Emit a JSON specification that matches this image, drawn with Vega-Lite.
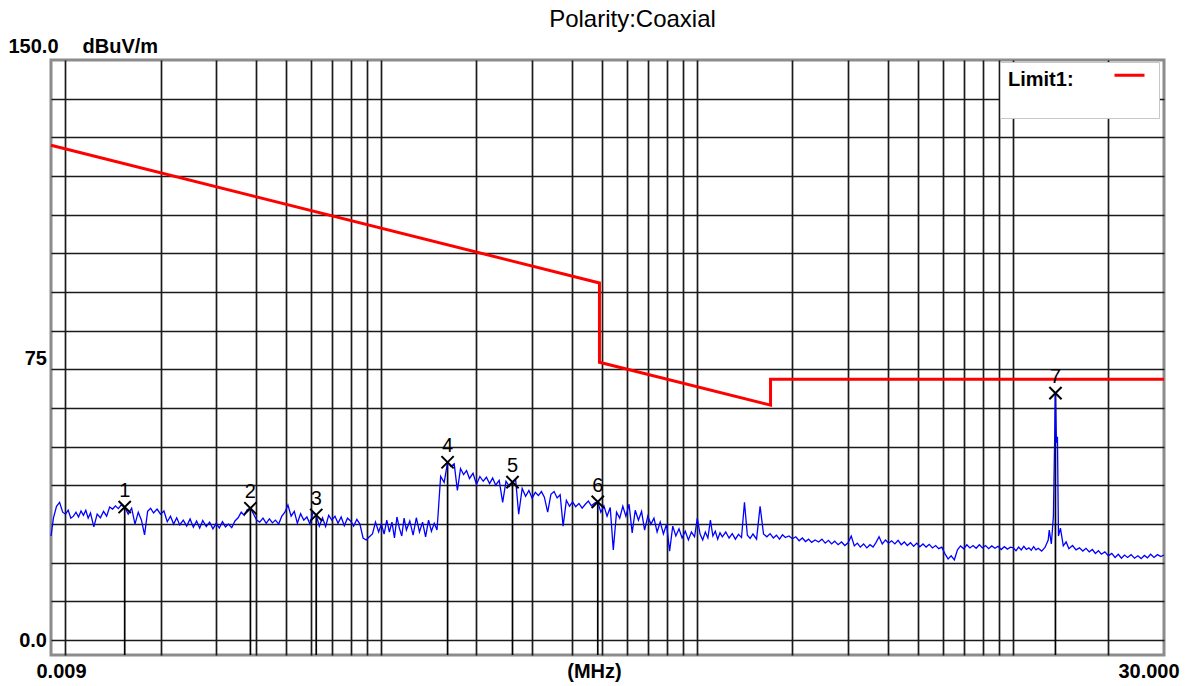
{
  "$schema": "https://vega.github.io/schema/vega-lite/v6.json",
  "width": 1113,
  "height": 595,
  "autosize": {"type": "none"},
  "padding": {"left": 51, "top": 60, "right": 27, "bottom": 31},
  "background": "white",
  "title": {"text": "Polarity:Coaxial", "font": "Liberation Sans", "fontSize": 24, "fontWeight": "normal", "color": "#000", "anchor": "middle", "frame": "group", "baseline": "alphabetic", "offset": -14, "dx": 25},
  "config": {
    "view": {"stroke": "#8c8c8c", "strokeWidth": 3},
    "font": "Liberation Sans"
  },
  "datasets": {
    "trace": [
      {"f":0.009,"v":30.0},{"f":0.00916,"v":34.5},{"f":0.00937,"v":37.5},{"f":0.00958,"v":38.5},{"f":0.0098,"v":36.0},
      {"f":0.01,"v":35.5},{"f":0.0102,"v":36.5},{"f":0.0104,"v":34.5},{"f":0.0106,"v":35.0},{"f":0.0108,"v":36.0},{"f":0.011,"v":34.8},{"f":0.0112,"v":36.3},{"f":0.0114,"v":35.2},{"f":0.0116,"v":36.5},{"f":0.0118,"v":34.5},{"f":0.012,"v":35.8},{"f":0.0123,"v":32.3},{"f":0.0126,"v":35.5},{"f":0.0129,"v":34.6},{"f":0.0132,"v":36.2},{"f":0.0135,"v":35.0},{"f":0.0138,"v":37.3},{"f":0.0141,"v":36.8},{"f":0.0144,"v":37.6},{"f":0.0147,"v":36.9},{"f":0.015,"v":37.8},{"f":0.0154,"v":37.3},{"f":0.0158,"v":35.5},{"f":0.0162,"v":37.0},{"f":0.0166,"v":33.0},{"f":0.017,"v":36.0},{"f":0.0174,"v":34.0},{"f":0.0178,"v":30.3},{"f":0.0182,"v":36.2},{"f":0.0186,"v":37.0},{"f":0.019,"v":35.8},{"f":0.0195,"v":36.8},
      {"f":0.02,"v":35.5},{"f":0.0205,"v":36.3},{"f":0.021,"v":33.6},{"f":0.0215,"v":35.0},{"f":0.022,"v":33.0},{"f":0.0225,"v":34.6},{"f":0.023,"v":32.8},{"f":0.0236,"v":34.0},{"f":0.0242,"v":32.5},{"f":0.0248,"v":34.3},{"f":0.0254,"v":32.2},{"f":0.026,"v":33.8},{"f":0.0266,"v":32.0},{"f":0.0272,"v":33.9},{"f":0.0279,"v":32.4},{"f":0.0286,"v":33.5},{"f":0.0293,"v":31.8},
      {"f":0.03,"v":33.2},{"f":0.0307,"v":32.0},{"f":0.0314,"v":33.6},{"f":0.0321,"v":32.3},{"f":0.0328,"v":33.0},{"f":0.0336,"v":32.1},{"f":0.0344,"v":33.8},{"f":0.0352,"v":34.6},{"f":0.036,"v":36.0},{"f":0.0368,"v":35.2},{"f":0.0376,"v":36.6},{"f":0.0385,"v":37.0},{"f":0.0394,"v":35.5},
      {"f":0.0403,"v":34.0},{"f":0.0412,"v":33.5},{"f":0.0422,"v":34.5},{"f":0.0432,"v":33.2},{"f":0.0442,"v":34.3},{"f":0.0452,"v":33.3},{"f":0.0462,"v":34.0},{"f":0.0473,"v":33.0},{"f":0.0484,"v":35.0},{"f":0.0495,"v":36.0},
      {"f":0.0506,"v":37.8},{"f":0.0518,"v":35.0},{"f":0.053,"v":36.2},{"f":0.0542,"v":33.2},{"f":0.0555,"v":35.6},{"f":0.0568,"v":34.0},{"f":0.0581,"v":34.8},{"f":0.0594,"v":33.0},{"f":0.0608,"v":36.0},{"f":0.0622,"v":35.3},{"f":0.0636,"v":32.5},{"f":0.0651,"v":34.6},{"f":0.0666,"v":32.4},{"f":0.0681,"v":35.2},{"f":0.0697,"v":34.0},
      {"f":0.0713,"v":35.0},{"f":0.0729,"v":33.2},{"f":0.0746,"v":34.8},{"f":0.0763,"v":32.6},{"f":0.0781,"v":34.5},{"f":0.0799,"v":33.8},{"f":0.0817,"v":32.5},{"f":0.0836,"v":34.2},{"f":0.0855,"v":33.0},{"f":0.0875,"v":29.5},{"f":0.0895,"v":29.0},{"f":0.0916,"v":29.8},{"f":0.0937,"v":30.5},{"f":0.0958,"v":33.5},{"f":0.098,"v":31.0},
      {"f":0.1,"v":33.0},{"f":0.102,"v":30.5},{"f":0.104,"v":34.0},{"f":0.106,"v":31.0},{"f":0.108,"v":33.5},{"f":0.11,"v":29.5},{"f":0.112,"v":34.8},{"f":0.114,"v":32.0},{"f":0.116,"v":30.0},{"f":0.118,"v":34.5},{"f":0.12,"v":31.5},{"f":0.123,"v":33.8},{"f":0.126,"v":30.2},{"f":0.129,"v":34.6},{"f":0.132,"v":31.0},{"f":0.135,"v":33.5},{"f":0.138,"v":29.8},{"f":0.141,"v":34.0},{"f":0.144,"v":31.2},{"f":0.147,"v":33.2},{"f":0.15,"v":31.5},
      {"f":0.154,"v":45.0},{"f":0.158,"v":43.5},{"f":0.162,"v":48.6},{"f":0.166,"v":47.5},{"f":0.17,"v":48.2},{"f":0.174,"v":41.5},{"f":0.178,"v":47.0},{"f":0.182,"v":45.5},{"f":0.186,"v":46.5},{"f":0.19,"v":44.5},{"f":0.195,"v":45.8},
      {"f":0.2,"v":43.0},{"f":0.205,"v":45.0},{"f":0.21,"v":43.8},{"f":0.215,"v":44.8},{"f":0.22,"v":43.2},{"f":0.225,"v":44.6},{"f":0.23,"v":42.8},{"f":0.236,"v":44.0},{"f":0.242,"v":38.5},{"f":0.248,"v":43.8},{"f":0.254,"v":42.5},{"f":0.26,"v":43.6},{"f":0.266,"v":44.2},{"f":0.272,"v":35.5},{"f":0.279,"v":42.0},{"f":0.286,"v":40.0},{"f":0.293,"v":41.5},
      {"f":0.3,"v":39.5},{"f":0.307,"v":41.0},{"f":0.314,"v":40.2},{"f":0.321,"v":41.2},{"f":0.328,"v":39.8},{"f":0.336,"v":36.0},{"f":0.344,"v":40.5},{"f":0.352,"v":41.2},{"f":0.36,"v":39.6},{"f":0.368,"v":40.4},{"f":0.376,"v":32.5},{"f":0.385,"v":39.0},{"f":0.394,"v":37.5},
      {"f":0.403,"v":38.6},{"f":0.412,"v":37.4},{"f":0.422,"v":38.2},{"f":0.432,"v":37.0},{"f":0.442,"v":38.0},{"f":0.452,"v":38.8},{"f":0.462,"v":37.6},{"f":0.473,"v":38.3},{"f":0.484,"v":38.6},{"f":0.495,"v":36.0},
      {"f":0.506,"v":37.6},{"f":0.518,"v":35.0},{"f":0.53,"v":37.2},{"f":0.542,"v":26.5},{"f":0.555,"v":36.0},{"f":0.568,"v":34.5},{"f":0.581,"v":37.5},{"f":0.594,"v":35.0},{"f":0.608,"v":38.0},{"f":0.622,"v":30.8},{"f":0.636,"v":36.5},{"f":0.651,"v":34.0},{"f":0.666,"v":36.2},{"f":0.681,"v":31.5},{"f":0.697,"v":35.0},
      {"f":0.713,"v":33.0},{"f":0.729,"v":34.5},{"f":0.746,"v":31.0},{"f":0.763,"v":33.5},{"f":0.781,"v":30.5},{"f":0.799,"v":33.0},{"f":0.817,"v":26.2},{"f":0.836,"v":32.5},{"f":0.855,"v":30.0},{"f":0.875,"v":31.8},{"f":0.895,"v":29.5},{"f":0.916,"v":31.2},{"f":0.937,"v":29.0},{"f":0.958,"v":31.0},{"f":0.98,"v":29.8},
      {"f":1.0,"v":34.5},{"f":1.02,"v":30.5},{"f":1.04,"v":29.0},{"f":1.06,"v":31.0},{"f":1.08,"v":29.5},{"f":1.1,"v":34.0},{"f":1.12,"v":30.0},{"f":1.14,"v":31.2},{"f":1.16,"v":29.2},{"f":1.18,"v":30.8},{"f":1.2,"v":29.8},{"f":1.23,"v":31.0},{"f":1.26,"v":29.5},{"f":1.29,"v":30.6},{"f":1.32,"v":29.2},{"f":1.35,"v":30.4},{"f":1.38,"v":29.6},{"f":1.41,"v":38.5},{"f":1.44,"v":30.2},{"f":1.47,"v":29.4},{"f":1.5,"v":30.5},{"f":1.54,"v":29.2},{"f":1.58,"v":37.5},{"f":1.62,"v":30.5},{"f":1.66,"v":29.8},{"f":1.7,"v":30.6},{"f":1.74,"v":29.5},{"f":1.78,"v":30.2},{"f":1.82,"v":29.2},{"f":1.86,"v":30.3},{"f":1.9,"v":29.6},{"f":1.95,"v":30.0},
      {"f":2.0,"v":29.3},{"f":2.05,"v":29.8},{"f":2.1,"v":28.8},{"f":2.15,"v":29.5},{"f":2.2,"v":28.6},{"f":2.25,"v":29.2},{"f":2.3,"v":28.4},{"f":2.36,"v":29.0},{"f":2.42,"v":28.5},{"f":2.48,"v":29.2},{"f":2.54,"v":28.2},{"f":2.6,"v":28.9},{"f":2.66,"v":28.0},{"f":2.72,"v":28.7},{"f":2.79,"v":27.8},{"f":2.86,"v":28.5},{"f":2.93,"v":27.6},
      {"f":3.0,"v":28.3},{"f":3.07,"v":30.0},{"f":3.14,"v":27.5},{"f":3.21,"v":28.2},{"f":3.28,"v":27.2},{"f":3.36,"v":28.0},{"f":3.44,"v":27.0},{"f":3.52,"v":27.8},{"f":3.6,"v":27.2},{"f":3.68,"v":28.4},{"f":3.76,"v":29.8},{"f":3.85,"v":28.0},{"f":3.94,"v":29.0},
      {"f":4.03,"v":28.2},{"f":4.12,"v":28.8},{"f":4.22,"v":28.0},{"f":4.32,"v":28.9},{"f":4.42,"v":27.8},{"f":4.52,"v":28.5},{"f":4.62,"v":27.6},{"f":4.73,"v":28.3},{"f":4.84,"v":27.4},{"f":4.95,"v":28.2},
      {"f":5.06,"v":27.3},{"f":5.18,"v":28.0},{"f":5.3,"v":27.2},{"f":5.42,"v":27.9},{"f":5.55,"v":27.0},{"f":5.68,"v":27.6},{"f":5.81,"v":26.8},{"f":5.94,"v":27.2},{"f":6.08,"v":25.5},{"f":6.22,"v":24.2},{"f":6.36,"v":25.0},{"f":6.51,"v":24.0},{"f":6.66,"v":26.5},{"f":6.81,"v":27.5},{"f":6.97,"v":26.8},
      {"f":7.13,"v":27.8},{"f":7.29,"v":27.0},{"f":7.46,"v":27.6},{"f":7.63,"v":26.9},{"f":7.81,"v":27.8},{"f":7.99,"v":27.0},{"f":8.17,"v":27.6},{"f":8.36,"v":26.8},{"f":8.55,"v":27.5},{"f":8.75,"v":26.9},{"f":8.95,"v":27.4},{"f":9.16,"v":26.6},{"f":9.37,"v":27.3},{"f":9.58,"v":26.7},{"f":9.8,"v":27.2},
      {"f":10.0,"v":27.0},{"f":10.2,"v":26.3},{"f":10.4,"v":27.2},{"f":10.6,"v":26.5},{"f":10.8,"v":27.4},{"f":11.0,"v":26.6},{"f":11.2,"v":27.0},{"f":11.4,"v":26.4},{"f":11.6,"v":27.3},{"f":11.8,"v":26.5},{"f":12.0,"v":26.9},{"f":12.3,"v":26.2},{"f":12.6,"v":27.1},{"f":12.9,"v":29.0},{"f":13.0,"v":31.5},{"f":13.2,"v":28.0},{"f":13.4,"v":35.0},{"f":13.5,"v":51.0},{"f":13.6,"v":66.0},{"f":13.7,"v":53.5},{"f":13.8,"v":55.0},{"f":13.9,"v":30.0},{"f":14.1,"v":32.0},{"f":14.4,"v":27.5},{"f":14.7,"v":28.5},
      {"f":15.0,"v":26.8},{"f":15.4,"v":27.6},{"f":15.8,"v":26.5},{"f":16.2,"v":27.0},{"f":16.6,"v":26.2},{"f":17.0,"v":26.9},{"f":17.4,"v":26.0},{"f":17.8,"v":26.6},{"f":18.2,"v":25.6},{"f":18.6,"v":26.3},{"f":19.0,"v":25.4},{"f":19.5,"v":26.0},
      {"f":20.0,"v":25.0},{"f":20.5,"v":25.6},{"f":21.0,"v":24.6},{"f":21.5,"v":25.4},{"f":22.0,"v":24.4},{"f":22.5,"v":25.2},{"f":23.0,"v":24.6},{"f":23.6,"v":25.3},{"f":24.2,"v":24.4},{"f":24.8,"v":25.0},{"f":25.4,"v":24.3},{"f":26.0,"v":25.1},{"f":26.6,"v":24.5},{"f":27.2,"v":25.4},{"f":27.9,"v":24.6},{"f":28.6,"v":25.3},{"f":29.3,"v":24.8},{"f":30.0,"v":25.2}
    ],
    "limit": [
      {"f":0.009,"v":128.5,"s":"Limit1:","i":1},
      {"f":0.49,"v":93.8,"s":"Limit1:","i":2},
      {"f":0.49,"v":73.8,"s":"Limit1:","i":3},
      {"f":1.705,"v":63.0,"s":"Limit1:","i":4},
      {"f":1.705,"v":69.5,"s":"Limit1:","i":5},
      {"f":30.0,"v":69.5,"s":"Limit1:","i":6}
    ],
    "markers": [
      {"f":0.0154,"v":37.3,"n":"1"},
      {"f":0.0385,"v":37.0,"n":"2"},
      {"f":0.0622,"v":35.3,"n":"3"},
      {"f":0.162,"v":48.6,"n":"4"},
      {"f":0.26,"v":43.6,"n":"5"},
      {"f":0.484,"v":38.6,"n":"6"},
      {"f":13.6,"v":66.0,"n":"7"}
    ]
  },
  "encoding": {
    "x": {
      "field": "f", "type": "quantitative",
      "scale": {"type": "log", "domain": [0.009, 30], "nice": false},
      "axis": {
        "values": [0.009,0.01,0.02,0.03,0.04,0.05,0.06,0.07,0.08,0.09,0.1,0.2,0.3,0.4,0.5,0.6,0.7,0.8,0.9,1,2,3,4,5,6,7,8,9,10,20,30],
        "labelExpr": "datum.value == 0.009 ? '0.009' : (datum.value == 30 ? '30.000' : '')",
        "grid": true, "gridColor": "#1a1a1a", "gridWidth": 1.7,
        "gridOpacity": {"condition": {"test": "datum.value == 0.009 || datum.value == 30", "value": 0}, "value": 1},
        "ticks": false, "tickSize": 0, "domain": false,
        "labelFont": "Liberation Sans", "labelFontWeight": "bold", "labelFontSize": 20, "labelColor": "#000",
        "labelPadding": 22.7, "labelBaseline": "alphabetic", "labelAlign": "center",
        "labelOffset": {"condition": {"test": "datum.value == 0.009", "value": 10}, "value": -15.5},
        "labelOverlap": false, "labelBound": false, "labelFlush": false,
        "title": "(MHz)", "titleX": 543, "titleY": 22.7, "titleAlign": "center", "titleBaseline": "alphabetic",
        "titleFont": "Liberation Sans", "titleFontSize": 20, "titleFontWeight": "bold", "titleColor": "#000"
      }
    },
    "y": {
      "field": "v", "type": "quantitative",
      "scale": {"domain": [0, 150], "nice": false, "zero": false},
      "axis": {
        "values": [0,3.75,13.5,23.25,33,42.75,52.5,62.25,72,75,81.75,91.5,101.25,111,120.75,130.5,140.25,150],
        "labelExpr": "datum.value == 150 ? '150.0' : (datum.value == 75 ? '75' : (datum.value == 0 ? '0.0' : ''))",
        "grid": true, "gridColor": "#1a1a1a", "gridWidth": 1.7,
        "gridOpacity": {"condition": {"test": "datum.value == 0 || datum.value == 75 || datum.value == 150", "value": 0}, "value": 1},
        "ticks": false, "tickSize": 0, "domain": false,
        "labelFont": "Liberation Sans", "labelFontWeight": "bold", "labelFontSize": 20, "labelColor": "#000",
        "labelBaseline": "alphabetic",
        "labelAlign": {"condition": {"test": "datum.value == 150", "value": "left"}, "value": "right"},
        "labelPadding": {"condition": {"test": "datum.value == 150", "value": 43}, "value": 4.5},
        "labelOffset": {"condition": [{"test": "datum.value == 150", "value": -7.5}, {"test": "datum.value == 75", "value": 6.5}], "value": -8.3},
        "labelOverlap": false, "labelBound": false, "labelFlush": false,
        "title": "dBuV/m", "titleAngle": 0, "titleX": 31, "titleY": -7.5, "titleAlign": "left", "titleBaseline": "alphabetic",
        "titleFont": "Liberation Sans", "titleFontSize": 20, "titleFontWeight": "bold", "titleColor": "#000"
      }
    }
  },
  "layer": [
    {
      "data": {"name": "markers"},
      "mark": {"type": "rule", "color": "#000", "strokeWidth": 1.7},
      "encoding": {"y2": {"datum": 0}}
    },
    {
      "data": {"name": "trace"},
      "mark": {"type": "line", "color": "#0000ff", "strokeWidth": 1.3, "interpolate": "linear"}
    },
    {
      "data": {"name": "limit"},
      "mark": {"type": "line", "strokeWidth": 3},
      "encoding": {
        "order": {"field": "i", "type": "quantitative"},
        "color": {
          "field": "s", "type": "nominal",
          "scale": {"range": ["#ff0000"]},
          "legend": {
            "orient": "none", "legendX": 949, "legendY": 2,
            "title": ["Limit1:", " "], "titleOrient": "left", "titleAnchor": "start",
            "titleFont": "Liberation Sans", "titleFontSize": 20, "titleFontWeight": "bold", "titleColor": "#000",
            "titleLineHeight": 19.5, "titlePadding": 39, "titleBaseline": "top",
            "labelExpr": "''", "labelOffset": 0,
            "symbolType": "M-1,-0.75H1", "symbolSize": 900, "symbolStrokeWidth": 3,
            "fillColor": "#ffffff", "strokeColor": "#c8c8c8", "padding": 8
          }
        }
      }
    },
    {
      "data": {"name": "markers"},
      "mark": {"type": "point", "shape": "M-1,-1L1,1M-1,1L1,-1", "size": 150, "stroke": "#000", "strokeWidth": 2, "filled": false, "opacity": 1}
    },
    {
      "data": {"name": "markers"},
      "mark": {"type": "text", "font": "Liberation Sans", "fontSize": 20, "color": "#000", "dy": -16, "baseline": "middle", "align": "center"},
      "encoding": {"text": {"field": "n"}}
    }
  ]
}
